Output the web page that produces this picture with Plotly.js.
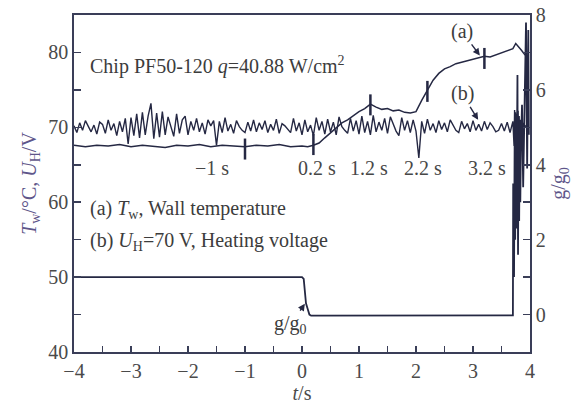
<!DOCTYPE html>
<html>
<head>
<meta charset="utf-8">
<script src="https://cdn.plot.ly/plotly-3.0.1.min.js"></script>
<style>html,body{margin:0;padding:0;background:#fff}#chart{width:580px;height:408px}</style>
</head>
<body>
<div id="chart"></div>
<script>
// ---------- data ----------
// (b) heating voltage U_H (V), sampled every 0.05 s from -4.00 s to 3.70 s
const voltStart = -4.0;
const voltStep = 0.05;
const voltValues = [
  70.2, 69.3, 70.6, 69.6, 70.9, 70.1, 69.4, 70.3, 69.1, 70.7,
  70.4, 69.2, 71.0, 69.6, 70.5, 68.9, 70.8, 69.4, 71.2, 67.8,
  71.3, 68.9, 71.8, 68.6, 72.0, 69.0, 71.5, 73.2, 68.5, 71.9,
  68.7, 72.1, 69.0, 71.4, 70.2, 68.8, 71.8, 69.2, 71.0, 71.5,
  69.0, 70.8, 69.6, 71.2, 69.4, 70.6, 69.1, 71.0, 70.2, 70.9,
  67.6, 70.8, 69.3, 71.3, 69.5, 70.4, 69.2, 70.9, 70.1, 69.6,
  69.3, 70.7, 69.5, 71.0, 69.4, 70.6, 69.7, 70.9, 69.3, 70.4,
  69.6, 71.1, 69.2, 70.5, 70.2, 69.8, 69.3, 71.2, 69.5, 70.6,
  69.0, 71.0, 69.4, 70.3, 68.9, 71.3, 69.6, 70.8, 69.1, 71.1,
  69.4, 70.7, 69.0, 71.4, 70.1, 69.6, 69.2, 71.2, 69.5, 70.9,
  69.1, 71.5, 69.3, 70.8, 69.0, 71.6, 69.4, 70.7, 69.6, 71.2,
  69.2, 71.4, 70.3, 69.5, 68.9, 71.3, 69.6, 70.9, 69.3, 71.0,
  69.5, 65.9, 70.8, 69.2, 71.1, 69.6, 70.5, 69.3, 70.9, 69.7,
  70.6, 69.4, 71.0, 70.2, 69.6, 69.3, 70.8, 69.8, 70.5, 69.4,
  70.9, 69.6, 70.4, 69.5, 70.8, 69.7, 70.6, 70.1, 69.4, 69.6,
  70.5, 69.5, 70.7, 69.3, 70.8
];
// voltage at the very end (burst region)
const voltEndTime = [3.72, 3.73, 3.74, 3.75, 3.76, 3.77, 3.78, 3.79, 3.80, 3.81, 3.82, 3.83, 3.84, 3.85, 3.86, 3.88, 3.90, 3.94, 3.98];
const voltEndValue = [67.5, 72.3, 67.2, 72.0, 68.0, 71.8, 67.4, 72.2, 68.2, 71.5, 67.8, 71.0, 69.0, 70.8, 69.5, 70.6, 70.0, 70.3, 69.9];

// (a) wall temperature T_w (°C)
const wallTime = [-4.0, -3.8, -3.6, -3.4, -3.2, -3.0, -2.8, -2.6, -2.4, -2.2, -2.0, -1.8, -1.6, -1.4, -1.2, -1.0, -0.8, -0.6, -0.4, -0.2,
  0.0, 0.1, 0.2, 0.3, 0.4, 0.5, 0.6, 0.7, 0.8, 0.9, 1.0, 1.1, 1.2, 1.3, 1.4, 1.5, 1.6, 1.7, 1.8, 1.9,
  2.0, 2.1, 2.2, 2.3, 2.4, 2.5, 2.6, 2.7, 2.8, 2.9, 3.0, 3.1, 3.2, 3.3, 3.4, 3.5, 3.6, 3.7, 3.75, 3.8, 3.85, 3.9, 3.95];
const wallTemp = [67.6, 67.4, 67.6, 67.5, 67.7, 67.4, 67.6, 67.5, 67.3, 67.6, 67.5, 67.7, 67.4, 67.6, 67.5, 67.4, 67.6, 67.5, 67.7, 67.4,
  67.5, 67.4, 67.6, 67.9, 68.6, 69.3, 70.0, 70.6, 71.0, 71.6, 72.1, 72.5, 73.1, 72.7, 72.4, 72.5, 72.2, 72.3, 72.0, 71.9,
  72.1, 73.6, 75.0, 76.3, 77.2, 77.8, 78.1, 78.5, 78.7, 78.9, 79.2, 79.3, 79.5, 79.4, 79.7, 79.9, 80.3, 80.5, 81.2, 80.8, 80.3, 79.8, 79.4];

// time marks on curve (a)
const markTime = [-1, 0.2, 1.2, 2.2, 3.2];
const markTemp = [67.1, 67.7, 73.0, 74.8, 79.2];
const markLabels = ['\u22121 s', '0.2 s', '1.2 s', '2.2 s', '3.2 s'];

// g/g0 (right axis)
const ratioTime = [-4.0, -2.0, 0.0, 0.03, 0.05, 0.07, 0.10, 0.13, 0.16, 1.0, 2.0, 3.0, 3.69,
  3.70, 3.705, 3.72, 3.73, 3.74, 3.75, 3.76, 3.78, 3.79, 3.80, 3.81, 3.82, 3.83, 3.84, 3.86, 3.88, 3.90, 3.93, 3.95, 3.97, 3.98];
const ratioValue = [1.0, 1.0, 1.0, 0.95, 0.6, 0.3, 0.15, 0.0, -0.03, -0.03, -0.03, -0.01, -0.02,
  -0.02, 3.5, 1.0, 4.5, 2.0, 5.0, 2.3, 6.4, 1.6, 4.8, 2.5, 5.0, 3.0, 4.5, 5.6, 3.4, 5.2, 7.8, 3.9, 7.6, 4.8];

// tick labels
const xTicks = [-4, -3, -2, -1, 0, 1, 2, 3, 4];
const yTicks = [40, 50, 60, 70, 80];
const y2Ticks = [0, 2, 4, 6, 8];

// ---------- build ----------
const voltTime = voltValues.map((_, i) => +(voltStart + i * voltStep).toFixed(2));
const lineColor = '#252843';
const font = 'Liberation Serif, Times New Roman, serif';

const traces = [
  {x: voltTime.concat(voltEndTime), y: voltValues.concat(voltEndValue), type: 'scatter', mode: 'lines',
   line: {color: lineColor, width: 1.4}, yaxis: 'y', hoverinfo: 'skip'},
  {x: wallTime, y: wallTemp, type: 'scatter', mode: 'lines',
   line: {color: lineColor, width: 1.5}, yaxis: 'y', hoverinfo: 'skip'},
  {x: markTime, y: markTemp, type: 'scatter', mode: 'markers',
   marker: {symbol: 'line-ns-open', size: 15, color: lineColor, line: {color: lineColor, width: 2.5}}, yaxis: 'y', hoverinfo: 'skip'},
  {x: ratioTime, y: ratioValue, type: 'scatter', mode: 'lines',
   line: {color: lineColor, width: 1.8}, yaxis: 'y2', hoverinfo: 'skip'}
];

const labelX = [-1.58, 0.27, 1.18, 2.12, 3.25];
const annotations = markLabels.map((t, i) => ({
  x: labelX[i], y: 64.6, xref: 'x', yref: 'y', text: t, showarrow: false,
  font: {family: font, size: 20, color: '#474747'}
}));
annotations.push(
  {x: -3.76, y: 78.3, xref: 'x', yref: 'y', xanchor: 'left', showarrow: false,
   text: 'Chip PF50-120 <i>q</i>=40.88 W/cm<sup>2</sup>', font: {family: font, size: 20, color: '#3c3c3c'}},
  {x: -3.76, y: 59.0, xref: 'x', yref: 'y', xanchor: 'left', showarrow: false,
   text: '(a) <i>T</i><sub>w</sub>, Wall temperature', font: {family: font, size: 20, color: '#3c3c3c'}},
  {x: -3.76, y: 54.7, xref: 'x', yref: 'y', xanchor: 'left', showarrow: false,
   text: '(b) <i>U</i><sub>H</sub>=70 V, Heating voltage', font: {family: font, size: 20, color: '#3c3c3c'}},
  {x: 3.12, y: 79.6, xref: 'x', yref: 'y', text: '(a)', showarrow: true, ax: -18, ay: -24,
   arrowhead: 2, arrowsize: 1, arrowwidth: 1.4, arrowcolor: lineColor, font: {family: font, size: 20, color: '#3c3c3c'}},
  {x: 3.09, y: 71.0, xref: 'x', yref: 'y', text: '(b)', showarrow: true, ax: -16, ay: -26,
   arrowhead: 2, arrowsize: 1, arrowwidth: 1.4, arrowcolor: lineColor, font: {family: font, size: 20, color: '#3c3c3c'}},
  {x: 0.05, y: 0.29, xref: 'x', yref: 'y2', text: 'g/g<sub>0</sub>', showarrow: true, ax: -14, ay: 21,
   arrowhead: 2, arrowsize: 1, arrowwidth: 1.4, arrowcolor: lineColor, font: {family: font, size: 20, color: '#3c3c3c'}}
);

const axisCol = '#3a3e58';
const layout = {
  width: 580, height: 408,
  margin: {l: 74, r: 50, t: 15, b: 56},
  paper_bgcolor: '#ffffff', plot_bgcolor: '#ffffff',
  showlegend: false,
  font: {family: font, size: 20, color: '#4a4a4a'},
  xaxis: {
    range: [-4, 4], tickvals: xTicks, ticktext: xTicks.map(v => v < 0 ? '\u2212' + Math.abs(v) : String(v)),
    ticks: 'inside', ticklen: 6, tickwidth: 1.5, tickcolor: axisCol,
    minor: {dtick: 0.5, ticks: 'inside', ticklen: 6, tickwidth: 1.5, tickcolor: axisCol},
    showline: true, linecolor: axisCol, linewidth: 1.8, mirror: true, showgrid: false, zeroline: false,
    tickfont: {family: font, size: 20, color: '#4a4a4a'},
    title: {text: '<i>t</i>/s', font: {family: font, size: 20, color: '#4a4a4a'}, standoff: 4}
  },
  yaxis: {
    range: [40, 85], tickvals: yTicks,
    ticks: 'inside', ticklen: 7, tickwidth: 1.5, tickcolor: axisCol,
    minor: {dtick: 5, ticks: 'inside', ticklen: 7, tickwidth: 1.5, tickcolor: axisCol},
    showline: true, linecolor: axisCol, linewidth: 1.8, showgrid: false, zeroline: false,
    tickfont: {family: font, size: 20, color: '#4a4a4a'},
    title: {text: '<i>T</i><sub>w</sub>/\u00B0C, <i>U</i><sub>H</sub>/V', font: {family: font, size: 20, color: '#5e568a'}, standoff: 6}
  },
  yaxis2: {
    range: [-1, 8], tickvals: y2Ticks, overlaying: 'y', side: 'right',
    ticks: 'inside', ticklen: 7, tickwidth: 1.5, tickcolor: axisCol,
    minor: {dtick: 1, ticks: 'inside', ticklen: 7, tickwidth: 1.5, tickcolor: axisCol},
    showline: true, linecolor: axisCol, linewidth: 1.8, showgrid: false, zeroline: false,
    tickfont: {family: font, size: 20, color: '#4a4a4a'},
    title: {text: 'g/g<sub>0</sub>', font: {family: font, size: 20, color: '#5e568a'}, standoff: 6}
  },
  annotations: annotations
};

Plotly.newPlot('chart', traces, layout, {displayModeBar: false, staticPlot: true});
</script>
</body>
</html>
